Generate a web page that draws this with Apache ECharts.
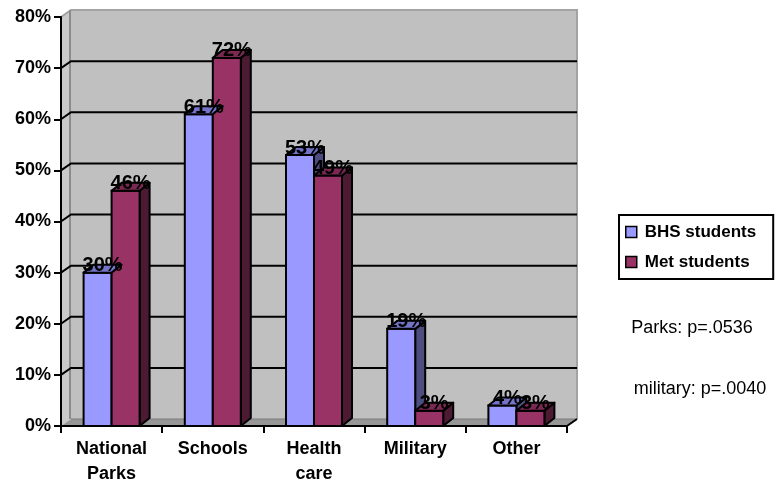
<!DOCTYPE html>
<html>
<head>
<meta charset="utf-8">
<script src="https://cdn.jsdelivr.net/npm/echarts@6/dist/echarts.min.js"></script>
<style>
  html, body { margin: 0; padding: 0; background: #ffffff; }
  #chart { width: 775px; height: 487px; }
</style>
</head>
<body>
<div id="chart"></div>
<script>
// Survey results: share of students in each group choosing each area
const categories = ['National\nParks', 'Schools', 'Health\ncare', 'Military', 'Other'];
const bhsStudents = [30, 61, 53, 19, 4];
const metStudents = [46, 72, 49, 3, 3];
const seriesNames = ['BHS students', 'Met students'];
const gridTicks = [10, 20, 30, 40, 50, 60, 70];
const notes = ['Parks: p=.0536', 'military: p=.0040'];

// Drawing style
const FONT = '"Liberation Sans", Arial, Helvetica, sans-serif';
const WALL_DX = 10, WALL_DY = -7;   // depth of the back wall
const BAR_DX = 10, BAR_DY = -8;     // depth of each column
const BAR_W = 28;                   // column width in px
const palette = {
  bhs: { front: '#9999ff', top: '#7373c8', side: '#4d4d80' },
  met: { front: '#993366', top: '#7a2952', side: '#4d1a33' }
};

function toPairs(arr) { return arr.map((v, i) => [i, v]); }

function columnBox(api, leftSide) {
  const idx = api.value(0), v = api.value(1);
  const top = api.coord([idx, v]);
  const base = api.coord([idx, 0]);
  const x = leftSide ? top[0] - BAR_W : top[0];
  return { x: x, yt: top[1], yb: base[1], v: v };
}

// Front and side faces of the columns
function bodyRenderer(leftSide, colors) {
  return function (params, api) {
    const b = columnBox(api, leftSide);
    const xr = b.x + BAR_W;
    return {
      type: 'group',
      children: [
        { type: 'polygon',
          shape: { points: [[xr, b.yt], [xr + BAR_DX, b.yt + BAR_DY], [xr + BAR_DX, b.yb + BAR_DY], [xr, b.yb]] },
          style: { fill: colors.side, stroke: '#000', lineWidth: 2, lineJoin: 'round' } },
        { type: 'rect',
          shape: { x: b.x, y: b.yt, width: BAR_W, height: b.yb - b.yt },
          style: { fill: colors.front, stroke: '#000', lineWidth: 2 } }
      ]
    };
  };
}

// Top faces of the columns
function topRenderer(leftSide, colors) {
  return function (params, api) {
    const b = columnBox(api, leftSide);
    return {
      type: 'polygon',
      shape: { points: [[b.x, b.yt], [b.x + BAR_DX, b.yt + BAR_DY], [b.x + BAR_W + BAR_DX, b.yt + BAR_DY], [b.x + BAR_W, b.yt]] },
      style: { fill: colors.top, stroke: '#000', lineWidth: 2, lineJoin: 'round' }
    };
  };
}

// Value labels above the columns
function labelRenderer(leftSide) {
  return function (params, api) {
    const b = columnBox(api, leftSide);
    return {
      type: 'text',
      x: b.x + BAR_W / 2 + BAR_DX / 2,
      y: b.yt - 7,
      style: {
        text: b.v + '%',
        font: 'bold 20px ' + FONT,
        fill: '#000',
        align: 'center',
        verticalAlign: 'middle'
      }
    };
  };
}

// Back wall, side wall and floor of the plot box
function wallRenderer(params, api) {
  const cs = params.coordSys;
  const x0 = cs.x, x1 = cs.x + cs.width;
  const y0 = api.coord([0, 0])[1];
  const y1 = api.coord([0, 80])[1];
  return {
    type: 'group',
    children: [
      { type: 'rect', shape: { x: x0 + WALL_DX, y: y1 + WALL_DY, width: x1 - x0, height: y0 - y1 },
        style: { fill: '#c0c0c0' } },
      { type: 'polygon', shape: { points: [[x0, y1], [x0 + WALL_DX, y1 + WALL_DY], [x0 + WALL_DX, y0 + WALL_DY], [x0, y0]] },
        style: { fill: '#cacaca' } },
      { type: 'polygon', shape: { points: [[x0, y0], [x0 + WALL_DX, y0 + WALL_DY], [x1 + WALL_DX, y0 + WALL_DY], [x1, y0]] },
        style: { fill: '#979797' } },
      { type: 'polyline', shape: { points: [[x0, y1], [x0 + WALL_DX, y1 + WALL_DY], [x1 + WALL_DX, y1 + WALL_DY], [x1 + WALL_DX, y0 + WALL_DY]] },
        style: { fill: null, stroke: '#a3a3a3', lineWidth: 2 } },
      { type: 'line', shape: { x1: x0 + WALL_DX - 1, y1: y1 + WALL_DY, x2: x0 + WALL_DX - 1, y2: y0 + WALL_DY },
        style: { stroke: '#8c8c8c', lineWidth: 2 } },
      { type: 'line', shape: { x1: x0 + WALL_DX, y1: y0 + WALL_DY, x2: x1 + WALL_DX, y2: y0 + WALL_DY },
        style: { stroke: '#7d7d7d', lineWidth: 1 } },
      { type: 'line', shape: { x1: x1, y1: y0, x2: x1 + WALL_DX, y2: y0 + WALL_DY },
        style: { stroke: '#000', lineWidth: 2 } }
    ]
  };
}

// Horizontal gridlines on the back wall, folding down the side wall
function gridRenderer(params, api) {
  const cs = params.coordSys;
  const x0 = cs.x, x1 = cs.x + cs.width;
  const y = api.coord([0, api.value(1)])[1];
  return {
    type: 'polyline',
    shape: { points: [[x0, y], [x0 + WALL_DX, y + WALL_DY], [x1 + WALL_DX, y + WALL_DY]] },
    style: { fill: null, stroke: '#000', lineWidth: 2 }
  };
}

const chart = echarts.init(document.getElementById('chart'), null, { renderer: 'canvas' });

chart.setOption({
  animation: false,
  backgroundColor: '#ffffff',
  grid: { left: 61, right: 208, top: 17, bottom: 60, containLabel: false },
  xAxis: {
    type: 'category',
    data: categories,
    z: 10,
    axisLine: { lineStyle: { color: '#000', width: 2 } },
    axisTick: { show: true, length: 7, lineStyle: { color: '#000', width: 2 } },
    axisLabel: {
      interval: 0, margin: 11, color: '#000',
      fontFamily: FONT, fontSize: 18, fontWeight: 'bold', lineHeight: 25
    },
    splitLine: { show: false }
  },
  yAxis: {
    type: 'value',
    min: 0, max: 80, interval: 10,
    z: 10,
    axisLine: { show: true, lineStyle: { color: '#000', width: 2 } },
    axisTick: { show: true, length: 7, lineStyle: { color: '#000', width: 2 } },
    axisLabel: {
      formatter: '{value}%', margin: 10, color: '#000',
      fontFamily: FONT, fontSize: 18, fontWeight: 'bold'
    },
    splitLine: { show: false }
  },
  legend: {
    orient: 'vertical',
    left: 619, top: 215,
    padding: [7, 17, 7, 6],
    itemGap: 10,
    itemWidth: 11, itemHeight: 11,
    borderColor: '#000', borderWidth: 2,
    backgroundColor: '#ffffff',
    selectedMode: false,
    textStyle: { fontFamily: FONT, fontSize: 17, fontWeight: 'bold', color: '#000', lineHeight: 20, padding: [0, 0, 0, 3] },
    data: [
      { name: seriesNames[0], icon: 'rect', itemStyle: { color: palette.bhs.front, borderColor: '#000', borderWidth: 1.5 } },
      { name: seriesNames[1], icon: 'rect', itemStyle: { color: palette.met.front, borderColor: '#000', borderWidth: 1.5 } }
    ]
  },
  graphic: [
    { type: 'text', x: 692, y: 328, style: { text: notes[0], font: '18px ' + FONT, fill: '#000', align: 'center', verticalAlign: 'middle' } },
    { type: 'text', x: 700, y: 389, style: { text: notes[1], font: '18px ' + FONT, fill: '#000', align: 'center', verticalAlign: 'middle' } }
  ],
  series: [
    { type: 'custom', name: 'wall', z: 0, silent: true, renderItem: wallRenderer, data: [[0, 0]], encode: { x: 0, y: 1 } },
    { type: 'custom', name: 'grid', z: 1, silent: true, renderItem: gridRenderer, data: gridTicks.map(v => [0, v]), encode: { x: 0, y: 1 } },
    { type: 'custom', name: seriesNames[0], z: 2, color: palette.bhs.front, renderItem: bodyRenderer(true, palette.bhs), data: toPairs(bhsStudents), encode: { x: 0, y: 1 } },
    { type: 'custom', name: seriesNames[1], z: 2, color: palette.met.front, renderItem: bodyRenderer(false, palette.met), data: toPairs(metStudents), encode: { x: 0, y: 1 } },
    { type: 'custom', name: seriesNames[0], z: 3, color: palette.bhs.front, renderItem: topRenderer(true, palette.bhs), data: toPairs(bhsStudents), encode: { x: 0, y: 1 } },
    { type: 'custom', name: seriesNames[1], z: 3, color: palette.met.front, renderItem: topRenderer(false, palette.met), data: toPairs(metStudents), encode: { x: 0, y: 1 } },
    { type: 'custom', name: seriesNames[0], z: 4, silent: true, renderItem: labelRenderer(true), data: toPairs(bhsStudents), encode: { x: 0, y: 1 } },
    { type: 'custom', name: seriesNames[1], z: 4, silent: true, renderItem: labelRenderer(false), data: toPairs(metStudents), encode: { x: 0, y: 1 } }
  ]
});
</script>
</body>
</html>
